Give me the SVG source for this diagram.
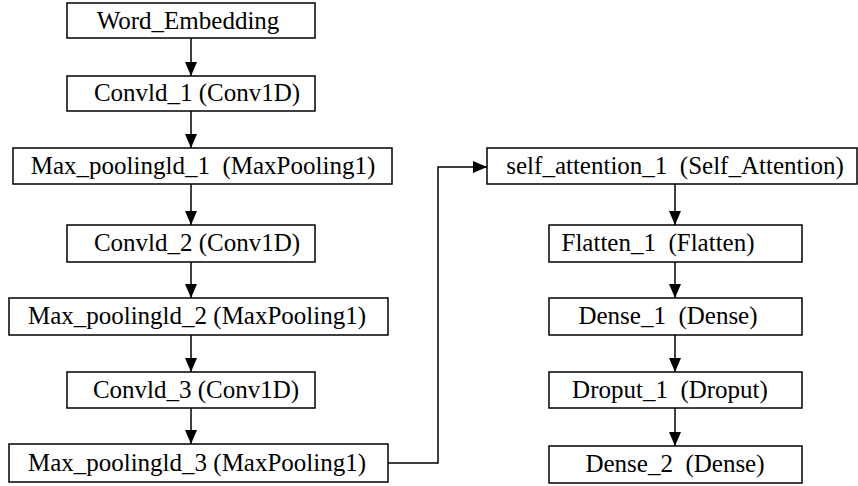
<svg xmlns="http://www.w3.org/2000/svg" width="858" height="486" viewBox="0 0 858 486">
<style>
rect.box{fill:#fff;stroke:#000;stroke-width:1.5}
.t{font-size:25px;fill:#000;text-anchor:middle;white-space:pre}
.edge{fill:none;stroke:#000;stroke-width:1.5;marker-end:url(#ah)}
</style>
<defs>
<marker id="ah" markerUnits="userSpaceOnUse" markerWidth="14" markerHeight="14" viewBox="0 0 14 12" refX="14" refY="6" orient="auto">
<path d="M0,0 L14,6 L0,12 Z" fill="#000"/>
</marker>
</defs>
<rect width="858" height="486" fill="#fff"/>
<g id="edges">
<path class="edge" d="M191,38 V76"/>
<path class="edge" d="M191,111 V148"/>
<path class="edge" d="M191,184 V225"/>
<path class="edge" d="M191,262 V298"/>
<path class="edge" d="M191,335 V372"/>
<path class="edge" d="M191,408 V444"/>
<path class="edge" d="M388,463 H438 V167 H487"/>
<path class="edge" d="M675,184 V225"/>
<path class="edge" d="M675,262 V298"/>
<path class="edge" d="M675,335 V372"/>
<path class="edge" d="M675,408 V446"/>
</g>
<g font-family="Liberation Serif, Times New Roman, Times, serif">
<g id="word_embedding"><rect class="box" x="67" y="3" width="248" height="35"/><text class="t" x="188" y="29">Word_Embedding</text></g>
<g id="conv1d_1"><rect class="box" x="67" y="76" width="248" height="35"/><text class="t" x="197" y="101">Convld_1 (Conv1D)</text></g>
<g id="maxpool_1"><rect class="box" x="13" y="148" width="379" height="36"/><text class="t" x="203" y="174">Max_poolingld_1  (MaxPooling1)</text></g>
<g id="conv1d_2"><rect class="box" x="67" y="225" width="248" height="37"/><text class="t" x="197" y="251">Convld_2 (Conv1D)</text></g>
<g id="maxpool_2"><rect class="box" x="9" y="298" width="379" height="37"/><text class="t" x="197" y="324">Max_poolingld_2 (MaxPooling1)</text></g>
<g id="conv1d_3"><rect class="box" x="67" y="372" width="248" height="36"/><text class="t" x="196" y="398">Convld_3 (Conv1D)</text></g>
<g id="maxpool_3"><rect class="box" x="9" y="444" width="379" height="38"/><text class="t" x="197" y="471">Max_poolingld_3 (MaxPooling1)</text></g>
<g id="self_attention"><rect class="box" x="487" y="148" width="370" height="36"/><text class="t" x="675" y="174">self_attention_1  (Self_Attention)</text></g>
<g id="flatten_1"><rect class="box" x="549" y="225" width="253" height="37"/><text class="t" x="658" y="251">Flatten_1  (Flatten)</text></g>
<g id="dense_1"><rect class="box" x="549" y="298" width="253" height="37"/><text class="t" x="668" y="324">Dense_1  (Dense)</text></g>
<g id="dropout_1"><rect class="box" x="549" y="372" width="253" height="36"/><text class="t" x="670" y="398">Droput_1  (Droput)</text></g>
<g id="dense_2"><rect class="box" x="549" y="446" width="253" height="37"/><text class="t" x="675" y="472">Dense_2  (Dense)</text></g>
</g>
</svg>
